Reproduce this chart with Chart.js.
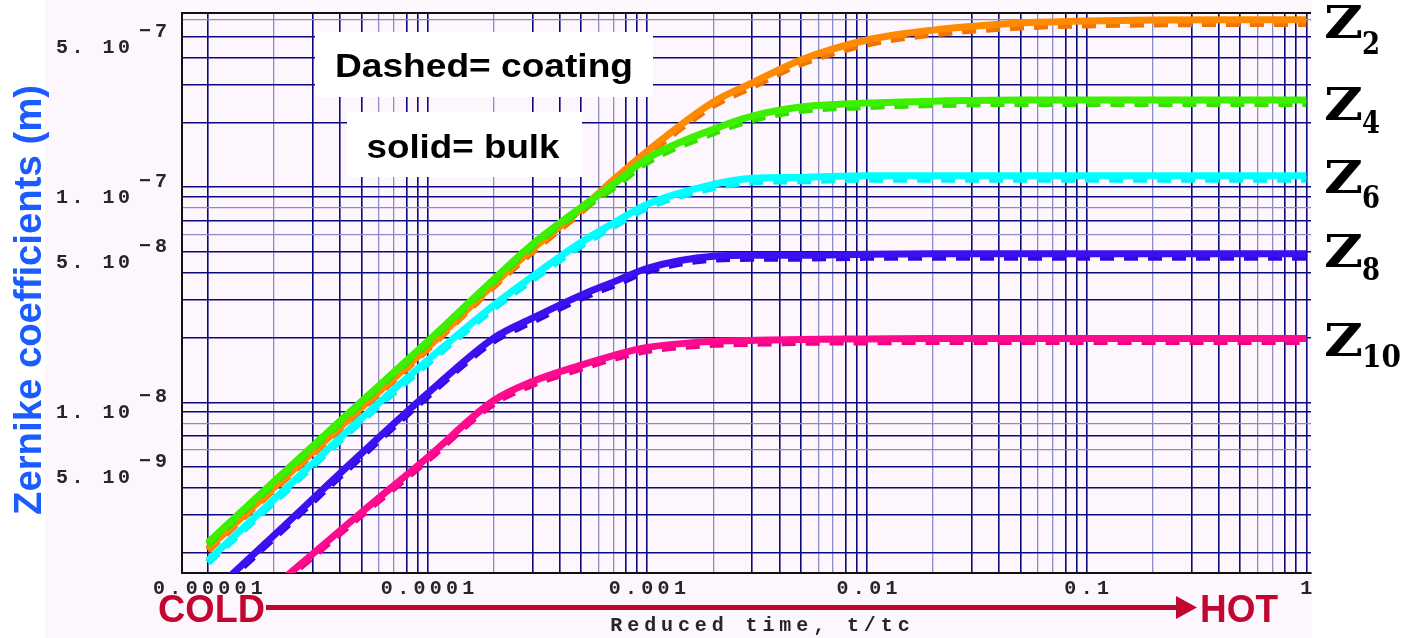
<!DOCTYPE html>
<html>
<head>
<meta charset="utf-8">
<script src="https://cdn.jsdelivr.net/npm/chart.js@4"></script>
<style>
  html, body { margin: 0; padding: 0; background: #fff; }
  #wrap { width: 1412px; height: 638px; position: relative; }
</style>
</head>
<body>
<div id="wrap"><canvas id="chart"></canvas></div>
<script>
// reduced time t/tc (log axis)
const times = [1e-5, 2e-5, 5e-5, 1e-4, 2e-4, 3e-4, 5e-4, 7e-4, 1e-3, 2e-3, 3e-3, 5e-3, 1e-2, 2e-2, 5e-2, 0.1, 0.2, 0.5, 1];

// Zernike coefficients (m): solid = bulk, dashed = coating
const z2Bulk  = [2.09e-9, 4.02e-9, 9.48e-9, 1.80e-8, 3.54e-8, 5.15e-8, 7.90e-8, 1.08e-7, 1.47e-7, 2.49e-7, 3.05e-7, 3.90e-7, 4.83e-7, 5.37e-7, 5.79e-7, 5.92e-7, 5.98e-7, 6.00e-7, 6.00e-7];
const z2Coat  = [2.05e-9, 3.95e-9, 9.30e-9, 1.77e-8, 3.47e-8, 5.02e-8, 7.70e-8, 1.04e-7, 1.42e-7, 2.40e-7, 2.93e-7, 3.75e-7, 4.62e-7, 5.15e-7, 5.55e-7, 5.68e-7, 5.74e-7, 5.76e-7, 5.76e-7];
const z4Bulk  = [2.23e-9, 4.29e-9, 1.01e-8, 1.92e-8, 3.73e-8, 5.43e-8, 8.07e-8, 1.03e-7, 1.36e-7, 1.86e-7, 2.14e-7, 2.36e-7, 2.46e-7, 2.51e-7, 2.54e-7, 2.54e-7, 2.54e-7, 2.54e-7, 2.54e-7];
const z4Coat  = [2.18e-9, 4.20e-9, 9.90e-9, 1.88e-8, 3.65e-8, 5.30e-8, 7.85e-8, 9.95e-8, 1.31e-7, 1.79e-7, 2.06e-7, 2.27e-7, 2.37e-7, 2.42e-7, 2.45e-7, 2.45e-7, 2.45e-7, 2.45e-7, 2.45e-7];
const z6Bulk  = [1.84e-9, 3.54e-9, 8.42e-9, 1.57e-8, 2.83e-8, 3.85e-8, 5.55e-8, 6.80e-8, 8.33e-8, 1.03e-7, 1.10e-7, 1.11e-7, 1.13e-7, 1.13e-7, 1.13e-7, 1.13e-7, 1.13e-7, 1.13e-7, 1.13e-7];
const z6Coat  = [1.80e-9, 3.45e-9, 8.20e-9, 1.52e-8, 2.74e-8, 3.72e-8, 5.36e-8, 6.56e-8, 8.05e-8, 9.95e-8, 1.06e-7, 1.07e-7, 1.09e-7, 1.09e-7, 1.09e-7, 1.09e-7, 1.09e-7, 1.09e-7, 1.09e-7];
const z8Bulk  = [1.25e-9, 2.41e-9, 5.79e-9, 1.10e-8, 1.99e-8, 2.46e-8, 3.15e-8, 3.62e-8, 4.20e-8, 4.78e-8, 4.83e-8, 4.83e-8, 4.88e-8, 4.90e-8, 4.90e-8, 4.90e-8, 4.90e-8, 4.90e-8, 4.90e-8];
const z8Coat  = [1.22e-9, 2.35e-9, 5.62e-9, 1.07e-8, 1.93e-8, 2.38e-8, 3.05e-8, 3.50e-8, 4.07e-8, 4.63e-8, 4.67e-8, 4.68e-8, 4.72e-8, 4.73e-8, 4.73e-8, 4.73e-8, 4.73e-8, 4.73e-8, 4.73e-8];
const z10Bulk = [7.65e-10, 1.39e-9, 3.08e-9, 5.55e-9, 1.02e-8, 1.25e-8, 1.49e-8, 1.65e-8, 1.80e-8, 1.92e-8, 1.94e-8, 1.96e-8, 1.97e-8, 1.98e-8, 1.98e-8, 1.98e-8, 1.98e-8, 1.98e-8, 1.98e-8];
const z10Coat = [7.45e-10, 1.35e-9, 3.00e-9, 5.40e-9, 9.90e-9, 1.21e-8, 1.44e-8, 1.60e-8, 1.74e-8, 1.86e-8, 1.88e-8, 1.90e-8, 1.91e-8, 1.92e-8, 1.92e-8, 1.92e-8, 1.92e-8, 1.92e-8, 1.92e-8];

const seriesNames = ['Z2', 'Z4', 'Z6', 'Z8', 'Z10'];
const subscripts = ['2', '4', '6', '8', '10'];

// tick labels
const xTickValues = [1e-5, 1e-4, 1e-3, 1e-2, 1e-1, 1];
const xTickLabels = ['0.00001', '0.0001', '0.001', '0.01', '0.1', '1'];
const yTickValues = [5e-7, 1e-7, 5e-8, 1e-8, 5e-9];
const yTickMant = ['5.', '1.', '5.', '1.', '5.'];
const yTickExp = ['\u22127', '\u22127', '\u22128', '\u22128', '\u22129'];
const gridMantissas = [1, 2, 3, 4, 5, 6, 7, 8, 9];
const xGridFrom = 1e-5;

// styles
const colors = ['#ff8a00', '#3cf000', '#00ffff', '#3c10f0', '#ff0a8e'];
const coatColors = ['#f27400', '#34e000', '#00f4f4', '#3208e0', '#f00082'];
const gridDark = '#0a0a7c';
const gridLight = '#8c8cc6';
const lightX = [2, 6, 7];
const lightY = [6, 8];
const monoFont = '"Liberation Mono", "DejaVu Sans Mono", monospace';
const sansFont = '"Liberation Sans", Arial, sans-serif';
const serifFont = '"DejaVu Serif", "Liberation Serif", serif';

const toPts = arr => arr.map((v, i) => ({ x: times[i], y: v }));
const mant = v => Math.round(v / Math.pow(10, Math.floor(Math.log10(v) + 1e-9)));

function logGrid(min, max) {
	const out = [];
	for (let e = Math.floor(Math.log10(min)); e <= Math.ceil(Math.log10(max)); e++) {
		gridMantissas.forEach(m => {
			const v = m * Math.pow(10, e);
			if (v >= min * 0.999 && v <= max) out.push({ value: v });
		});
	}
	return out;
}

const datasets = [];
seriesNames.forEach((name, i) => {
	const bulk = [z2Bulk, z4Bulk, z6Bulk, z8Bulk, z10Bulk][i];
	const coat = [z2Coat, z4Coat, z6Coat, z8Coat, z10Coat][i];
	datasets.push({
		label: name + ' bulk', data: toPts(bulk),
		borderColor: colors[i], borderWidth: 7,
		cubicInterpolationMode: 'monotone', pointRadius: 0,
		order: 20 - 4 * i, clip: 0
	});
	datasets.push({
		label: name + ' coating', data: toPts(coat),
		borderColor: coatColors[i], borderWidth: 7, borderDash: [14, 10],
		cubicInterpolationMode: 'monotone', pointRadius: 0,
		order: 21 - 4 * i, clip: 0
	});
});

// draw characters on a fixed pitch (the original uses a wide bitmap font)
function spaced(ctx, text, x0, y, pitch) {
	let x = x0;
	for (const ch of text) { ctx.fillText(ch, x, y); x += pitch; }
}
function spacedCenter(ctx, text, cx, y, pitch) {
	spaced(ctx, text, cx - pitch * (text.length - 1) / 2, y, pitch);
}
// draw text stretched to a given width
function fitText(ctx, text, cx, y, width, font) {
	ctx.font = font;
	const w = ctx.measureText(text).width;
	ctx.save();
	ctx.translate(cx, y);
	ctx.scale(width / w, 1);
	ctx.textAlign = 'center';
	ctx.fillText(text, 0, 0);
	ctx.restore();
}

const decor = {
	id: 'decor',
	beforeDraw(chart) {
		const ctx = chart.ctx;
		ctx.save();
		ctx.fillStyle = '#ffffff';
		ctx.fillRect(0, 0, chart.width, chart.height);
		ctx.fillStyle = '#fdf6fd';
		ctx.fillRect(45, 0, 1267, chart.height);
		ctx.restore();
	},
	beforeDatasetsDraw(chart) {
		const ctx = chart.ctx;
		ctx.save();
		// note boxes
		ctx.fillStyle = '#ffffff';
		ctx.fillRect(315, 32, 338, 65);
		ctx.fillRect(347, 112, 235, 65);
		ctx.fillStyle = '#000';
		ctx.textBaseline = 'alphabetic';
		fitText(ctx, 'Dashed= coating', 484, 77, 298, 'bold 34px ' + sansFont);
		fitText(ctx, 'solid= bulk', 463, 158, 193, 'bold 34px ' + sansFont);
		ctx.restore();
	},
	afterDraw(chart) {
		const ctx = chart.ctx;
		const { left, right, top } = chart.chartArea;
		const xs = chart.scales.x, ys = chart.scales.y;
		ctx.save();

		// frame (top; left/bottom come from axis borders)
		ctx.strokeStyle = '#111';
		ctx.lineWidth = 2;
		ctx.beginPath();
		ctx.moveTo(left, top); ctx.lineTo(right, top);
		ctx.stroke();

		// y tick labels: "5. 10" with superscript exponent
		ctx.fillStyle = '#262626';
		ctx.font = 'bold 20px ' + monoFont;
		ctx.textAlign = 'center';
		ctx.textBaseline = 'middle';
		yTickValues.forEach((v, i) => {
			const py = ys.getPixelForValue(v);
			spaced(ctx, yTickMant[i] + ' 10', 62, py + 11, 15.5);
			spaced(ctx, yTickExp[i], 145, py - 5, 16);
		});

		// x tick labels (the last one is cut by the plot background edge)
		ctx.save();
		ctx.beginPath();
		ctx.rect(0, 0, 1312, chart.height);
		ctx.clip();
		xTickValues.forEach((v, i) => {
			spacedCenter(ctx, xTickLabels[i], xs.getPixelForValue(v), 589, 16.3);
		});
		ctx.restore();

		// x axis title
		spacedCenter(ctx, 'Reduced time, t/tc', 760, 626, 16.9);

		// COLD ---> HOT
		const red = '#c1072f';
		ctx.fillStyle = red;
		ctx.strokeStyle = red;
		ctx.lineWidth = 5;
		ctx.beginPath();
		ctx.moveTo(266, 607.5); ctx.lineTo(1180, 607.5);
		ctx.stroke();
		ctx.beginPath();
		ctx.moveTo(1176, 596); ctx.lineTo(1197, 607.5); ctx.lineTo(1176, 619);
		ctx.closePath();
		ctx.fill();
		ctx.textBaseline = 'alphabetic';
		fitText(ctx, 'COLD', 211.5, 622, 107, 'bold 38px ' + sansFont);
		fitText(ctx, 'HOT', 1239, 622, 78, 'bold 38px ' + sansFont);

		// y axis title
		ctx.save();
		ctx.translate(30, 300);
		ctx.rotate(-Math.PI / 2);
		ctx.fillStyle = '#1a5cff';
		ctx.textBaseline = 'middle';
		fitText(ctx, 'Zernike coefficients (m)', 0, 0, 430, 'bold 39px ' + sansFont);
		ctx.restore();

		// curve names on the right
		const zBase = [38, 120, 193, 267, 356];
		const subBase = [54, 133, 208, 280, 367];
		ctx.fillStyle = '#000';
		ctx.textBaseline = 'alphabetic';
		seriesNames.forEach((n, i) => {
			fitText(ctx, 'Z', 1343.5, zBase[i], 39, 'bold 44px ' + serifFont);
			const sw = subscripts[i].length === 1 ? 18 : 39;
			fitText(ctx, subscripts[i], 1362 + sw / 2, subBase[i], sw, 'bold 32px ' + serifFont);
		});
		ctx.restore();
	}
};

new Chart(document.getElementById('chart'), {
	type: 'line',
	data: { datasets },
	options: {
		responsive: true,
		maintainAspectRatio: false,
		animation: false,
		events: [],
		layout: { padding: { left: 182, right: 101, top: 13, bottom: 65 } },
		plugins: { legend: { display: false }, tooltip: { enabled: false } },
		scales: {
			x: {
				type: 'logarithmic', min: 7.62e-6, max: 1.05,
				afterBuildTicks: s => { s.ticks = logGrid(xGridFrom, s.max); },
				afterFit: s => { s.height = 0; },
				ticks: { display: false },
				grid: {
					drawTicks: false,
					color: c => lightX.includes(mant(c.tick.value)) ? gridLight : gridDark,
					lineWidth: c => lightX.includes(mant(c.tick.value)) ? 1.3 : 1.6
				},
				border: { display: true, color: '#111', width: 2 }
			},
			y: {
				type: 'logarithmic', min: 1.61e-9, max: 6.45e-7,
				afterBuildTicks: s => { s.ticks = logGrid(s.min, s.max); },
				afterFit: s => { s.width = 0; },
				ticks: { display: false },
				grid: {
					drawTicks: false,
					color: c => lightY.includes(mant(c.tick.value)) ? gridLight : gridDark,
					lineWidth: c => lightY.includes(mant(c.tick.value)) ? 1.3 : 1.6
				},
				border: { display: true, color: '#111', width: 2 }
			}
		}
	},
	plugins: [decor]
});
</script>
</body>
</html>
